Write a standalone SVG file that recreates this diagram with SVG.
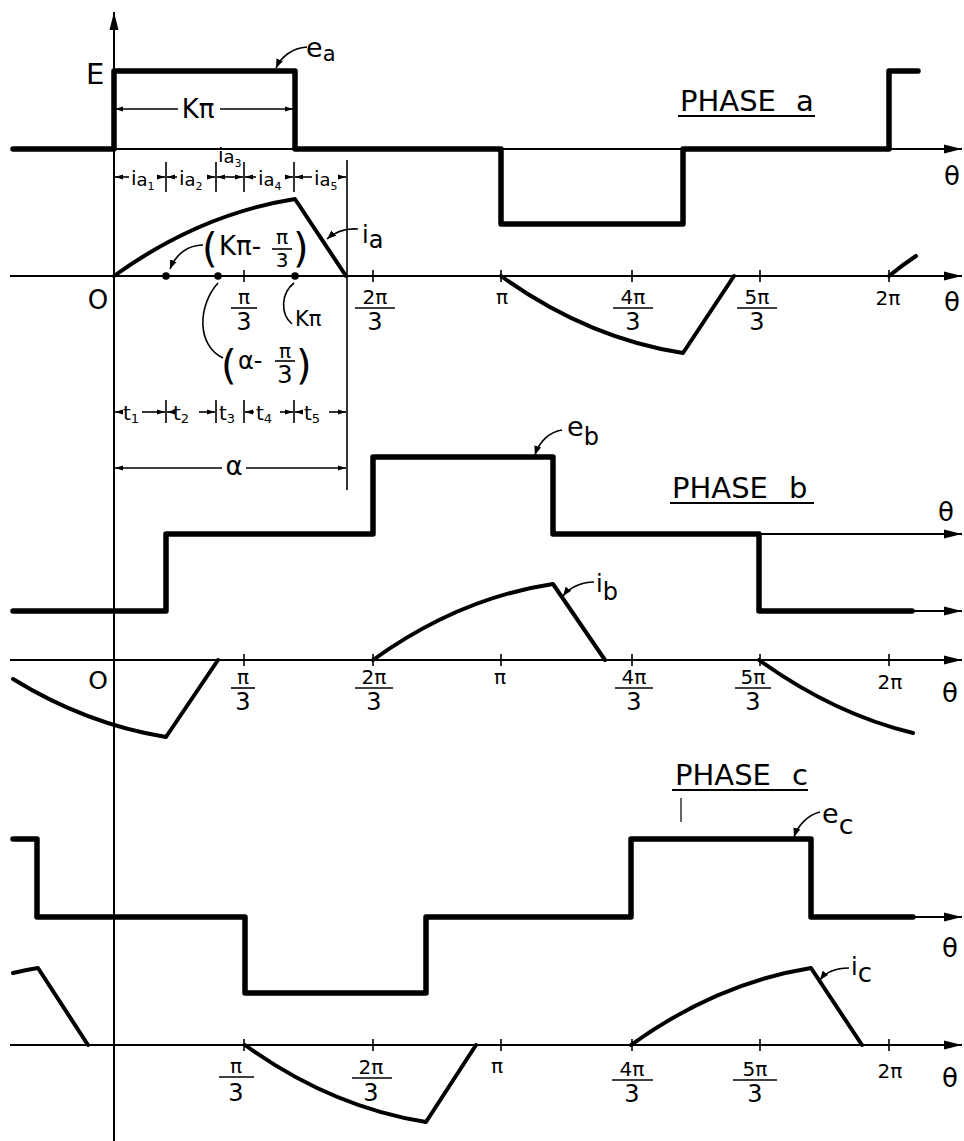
<svg xmlns="http://www.w3.org/2000/svg" width="964" height="1141" viewBox="0 0 964 1141">
<defs>
<marker id="ax" markerWidth="20" markerHeight="10" refX="18" refY="5" orient="auto" markerUnits="userSpaceOnUse"><path d="M0,0.5 L18,5 L0,9.5 Z" fill="#000"/></marker>
<marker id="dm" markerWidth="9" markerHeight="6" refX="8" refY="3" orient="auto-start-reverse" markerUnits="userSpaceOnUse"><path d="M0,0.5 L8,3 L0,5.5 Z" fill="#000"/></marker>
<marker id="ld" markerWidth="10" markerHeight="8" refX="9" refY="4" orient="auto" markerUnits="userSpaceOnUse"><path d="M0,0.5 L9,4 L0,7.5 Z" fill="#000"/></marker>
</defs>
<style>
.ax{fill:none;stroke:#000;stroke-width:2}
.thin{fill:none;stroke:#000;stroke-width:1.6}
.wave{fill:none;stroke:#000;stroke-width:5.5;stroke-linejoin:round;stroke-linecap:round}
.cur{fill:none;stroke:#000;stroke-width:4;stroke-linejoin:round;stroke-linecap:round}
.dot{fill:#000}
text{font-family:"DejaVu Sans",sans-serif;fill:#000}
.num{font-size:20px;text-anchor:middle}
.den{font-size:24px;text-anchor:middle}
.th{font-size:26px;text-anchor:middle}
.ph{font-size:29px}
.par{font-size:40px}
</style>
<rect width="964" height="1141" fill="#fff"/>

<g id="vertical-axis">
<line class="ax" x1="114" y1="1141" x2="114" y2="12" marker-end="url(#ax)"/>
</g>

<g id="phase-a">
<line class="ax" x1="13" y1="149" x2="962" y2="149" marker-end="url(#ax)"/>
<line class="ax" x1="10" y1="276" x2="962" y2="276" marker-end="url(#ax)"/>
<path class="thin" d="M244,270V282M373,270V282M501,270V282M632,270V282M760,270V282M889,270V282"/>
<path class="wave" d="M13,149 H114 V71 H295 V149 H501 V224 H683 V149 H889 V71 H918"/>
<path class="cur" d="M114,276 Q200,214 295,199 L346,276"/>
<path class="cur" d="M501,276 Q587,338 683,353 L734,276"/>
<path class="cur" d="M889,276 Q901,266 916,256"/>
<circle class="dot" cx="166" cy="276" r="3.8"/>
<circle class="dot" cx="218" cy="276" r="3.8"/>
<circle class="dot" cx="295" cy="276" r="3.8"/>
<text x="86" y="84" font-size="29">E</text>
<text x="306" y="57" font-size="27">e<tspan font-size="21" dy="4">a</tspan></text>
<text x="362" y="243" font-size="24">i<tspan dy="5">a</tspan></text>
<text class="ph" x="680" y="111">PHASE<tspan x="796">a</tspan></text>
<line x1="678" y1="116" x2="815" y2="116" stroke="#000" stroke-width="2"/>
<text class="th" x="952" y="185">θ</text>
<text class="th" x="952" y="311">θ</text>
<text x="98" y="309" font-size="26" text-anchor="middle">O</text>
<text class="num" x="244" y="304">π</text><line class="thin" x1="231" y1="308" x2="257" y2="308"/><text class="den" x="244" y="330">3</text>
<text class="num" x="375" y="304">2π</text><line class="thin" x1="355" y1="308" x2="395" y2="308"/><text class="den" x="375" y="330">3</text>
<text class="num" x="502" y="304">π</text>
<text class="num" x="633" y="304">4π</text><line class="thin" x1="613" y1="308" x2="653" y2="308"/><text class="den" x="633" y="330">3</text>
<text class="num" x="757" y="304">5π</text><line class="thin" x1="737" y1="308" x2="777" y2="308"/><text class="den" x="757" y="330">3</text>
<text class="num" x="888" y="305">2π</text>
<text class="par" x="202" y="262">(</text>
<text x="219" y="255" font-size="26">Kπ-</text>
<text class="num" x="282" y="244">π</text><line class="thin" x1="272" y1="249" x2="292" y2="249"/><text class="num" x="282" y="267">3</text>
<text class="par" x="293" y="262">)</text>
<text class="par" x="221" y="379">(</text>
<text x="238" y="369" font-size="24">α-</text>
<text class="num" x="285" y="358">π</text><line class="thin" x1="275" y1="361" x2="295" y2="361"/><text class="den" x="285" y="383">3</text>
<text class="par" x="296" y="379">)</text>
<text x="295" y="326" font-size="21">Kπ</text>
</g>

<g id="dimensions">
<line class="thin" x1="347" y1="160" x2="347" y2="490"/>
<line class="thin" x1="115" y1="109" x2="178" y2="109" marker-start="url(#dm)"/>
<line class="thin" x1="220" y1="109" x2="293" y2="109" marker-end="url(#dm)"/>
<text x="198" y="118" font-size="26" text-anchor="middle">Kπ</text>
<path class="thin" d="M166,162V192M216,162V192M244,162V192M294,162V192"/>
<line class="thin" x1="115" y1="177" x2="129" y2="177" marker-start="url(#dm)"/>
<line class="thin" x1="157" y1="177" x2="165" y2="177" marker-end="url(#dm)"/>
<line class="thin" x1="167" y1="177" x2="177" y2="177" marker-start="url(#dm)"/>
<line class="thin" x1="208" y1="177" x2="215" y2="177" marker-end="url(#dm)"/>
<line class="thin" x1="217" y1="177" x2="243" y2="177" marker-start="url(#dm)" marker-end="url(#dm)"/>
<line class="thin" x1="245" y1="177" x2="256" y2="177" marker-start="url(#dm)"/>
<line class="thin" x1="285" y1="177" x2="293" y2="177" marker-end="url(#dm)"/>
<line class="thin" x1="295" y1="177" x2="312" y2="177" marker-start="url(#dm)"/>
<line class="thin" x1="339" y1="177" x2="346" y2="177" marker-end="url(#dm)"/>
<text x="131" y="185" font-size="20">i<tspan font-size="18" dy="1">a</tspan><tspan font-size="11" dy="4">1</tspan></text>
<text x="179" y="185" font-size="20">i<tspan font-size="18" dy="1">a</tspan><tspan font-size="11" dy="4">2</tspan></text>
<text x="218" y="162" font-size="20">i<tspan font-size="18" dy="1">a</tspan><tspan font-size="11" dy="4">3</tspan></text>
<text x="258" y="185" font-size="20">i<tspan font-size="18" dy="1">a</tspan><tspan font-size="11" dy="4">4</tspan></text>
<text x="314" y="185" font-size="20">i<tspan font-size="18" dy="1">a</tspan><tspan font-size="11" dy="4">5</tspan></text>
<path class="thin" d="M166,400V423M216,400V423M244,400V423M294,400V423"/>
<line class="thin" x1="115" y1="412" x2="122" y2="412" marker-start="url(#dm)"/>
<line class="thin" x1="142" y1="412" x2="165" y2="412" marker-end="url(#dm)"/>
<line class="thin" x1="167" y1="412" x2="171" y2="412" marker-start="url(#dm)"/>
<line class="thin" x1="199" y1="412" x2="215" y2="412" marker-end="url(#dm)"/>
<line class="thin" x1="245" y1="412" x2="254" y2="412" marker-start="url(#dm)"/>
<line class="thin" x1="280" y1="412" x2="293" y2="412" marker-end="url(#dm)"/>
<line class="thin" x1="295" y1="412" x2="302" y2="412" marker-start="url(#dm)"/>
<line class="thin" x1="329" y1="412" x2="346" y2="412" marker-end="url(#dm)"/>
<text x="123" y="420" font-size="20">t<tspan font-size="13" dy="3">1</tspan></text>
<text x="173" y="420" font-size="20">t<tspan font-size="13" dy="3">2</tspan></text>
<text x="219" y="420" font-size="20">t<tspan font-size="13" dy="3">3</tspan></text>
<text x="256" y="420" font-size="20">t<tspan font-size="13" dy="3">4</tspan></text>
<text x="304" y="420" font-size="20">t<tspan font-size="13" dy="3">5</tspan></text>
<line class="thin" x1="115" y1="468" x2="222" y2="468" marker-start="url(#dm)"/>
<line class="thin" x1="246" y1="468" x2="346" y2="468" marker-end="url(#dm)"/>
<text x="234" y="475" font-size="26" text-anchor="middle">α</text>
</g>

<g id="phase-b">
<line class="ax" x1="759" y1="534" x2="962" y2="534" marker-end="url(#ax)"/>
<line class="ax" x1="900" y1="611" x2="962" y2="611" marker-end="url(#ax)"/>
<line class="ax" x1="10" y1="660" x2="962" y2="660" marker-end="url(#ax)"/>
<path class="thin" d="M244,654V666M373,654V666M501,654V666M632,654V666M760,654V666M889,654V666"/>
<path class="wave" d="M13,611 H166 V534 H373 V457 H553 V534 H759 V611 H912"/>
<path class="cur" d="M13,679 Q86,724 166,737 L218,660"/>
<path class="cur" d="M373,660 Q459,598 553,584 L605,660"/>
<path class="cur" d="M759,660 Q834,714 913,733"/>
<text x="567" y="436" font-size="27">e<tspan font-size="24" dy="9">b</tspan></text>
<text x="596" y="592" font-size="24">i<tspan dy="8">b</tspan></text>
<text class="ph" x="672" y="498">PHASE<tspan x="789">b</tspan></text>
<line x1="670" y1="503" x2="814" y2="503" stroke="#000" stroke-width="2"/>
<text class="th" x="946" y="521">θ</text>
<text class="th" x="950" y="702">θ</text>
<text x="98" y="689" font-size="25" text-anchor="middle">O</text>
<text class="num" x="243" y="684">π</text><line class="thin" x1="231" y1="688" x2="255" y2="688"/><text class="den" x="243" y="710">3</text>
<text class="num" x="374" y="684">2π</text><line class="thin" x1="355" y1="688" x2="393" y2="688"/><text class="den" x="374" y="710">3</text>
<text class="num" x="500" y="684">π</text>
<text class="num" x="634" y="684">4π</text><line class="thin" x1="615" y1="688" x2="653" y2="688"/><text class="den" x="634" y="710">3</text>
<text class="num" x="753" y="684">5π</text><line class="thin" x1="735" y1="688" x2="771" y2="688"/><text class="den" x="753" y="710">3</text>
<text class="num" x="890" y="689">2π</text>
</g>

<g id="phase-c">
<line class="ax" x1="900" y1="917" x2="962" y2="917" marker-end="url(#ax)"/>
<line class="ax" x1="10" y1="1045" x2="962" y2="1045" marker-end="url(#ax)"/>
<path class="thin" d="M244,1039V1051M373,1039V1051M501,1039V1051M632,1039V1051M760,1039V1051M889,1039V1051"/>
<path class="wave" d="M13,839 H37 V917 H245 V993 H426 V917 H631 V839 H811 V917 H913"/>
<path class="cur" d="M13,973 Q25,970 38,968 L88,1045"/>
<path class="cur" d="M245,1045 Q331,1107 426,1122 L476,1045"/>
<path class="cur" d="M631,1045 Q717,983 811,968 L862,1045"/>
<line x1="681" y1="798" x2="681" y2="822" stroke="#000" stroke-width="1.2"/>
<text class="ph" x="675" y="785">PHASE<tspan x="792">c</tspan></text>
<line x1="672" y1="790" x2="808" y2="790" stroke="#000" stroke-width="2"/>
<text x="822" y="823" font-size="27">e<tspan dy="11">c</tspan></text>
<text x="851" y="975" font-size="24">i<tspan font-size="26" dy="7">c</tspan></text>
<text class="th" x="950" y="957">θ</text>
<text class="th" x="950" y="1087">θ</text>
<text class="num" x="236" y="1073">π</text><line class="thin" x1="219" y1="1077" x2="254" y2="1077"/><text class="den" x="236" y="1101">3</text>
<text class="num" x="371" y="1074">2π</text><line class="thin" x1="352" y1="1078" x2="392" y2="1078"/><text class="den" x="371" y="1101">3</text>
<text class="num" x="497" y="1073">π</text>
<text class="num" x="632" y="1076">4π</text><line class="thin" x1="612" y1="1080" x2="653" y2="1080"/><text class="den" x="632" y="1102">3</text>
<text class="num" x="755" y="1076">5π</text><line class="thin" x1="733" y1="1080" x2="777" y2="1080"/><text class="den" x="755" y="1102">3</text>
<text class="num" x="890" y="1078">2π</text>
</g>

<g id="connectors">
<path class="thin" d="M307,47 C292,48 281,57 276,68" marker-end="url(#ld)"/>
<path class="thin" d="M358,229 C346,228 335,232 327,239" marker-end="url(#ld)"/>
<path class="thin" d="M203,245 C188,245 176,254 170,269" marker-end="url(#ld)"/>
<path class="thin" d="M218,283 C198,305 196,345 223,358"/>
<path class="thin" d="M294,283 C281,293 280,314 292,324"/>
<path class="thin" d="M562,430 C549,432 539,442 535,455" marker-end="url(#ld)"/>
<path class="thin" d="M594,582 C581,582 569,588 563,596" marker-end="url(#ld)"/>
<path class="thin" d="M820,812 C808,815 798,825 794,837" marker-end="url(#ld)"/>
<path class="thin" d="M849,968 C836,968 826,972 820,980" marker-end="url(#ld)"/>
</g>
</svg>
